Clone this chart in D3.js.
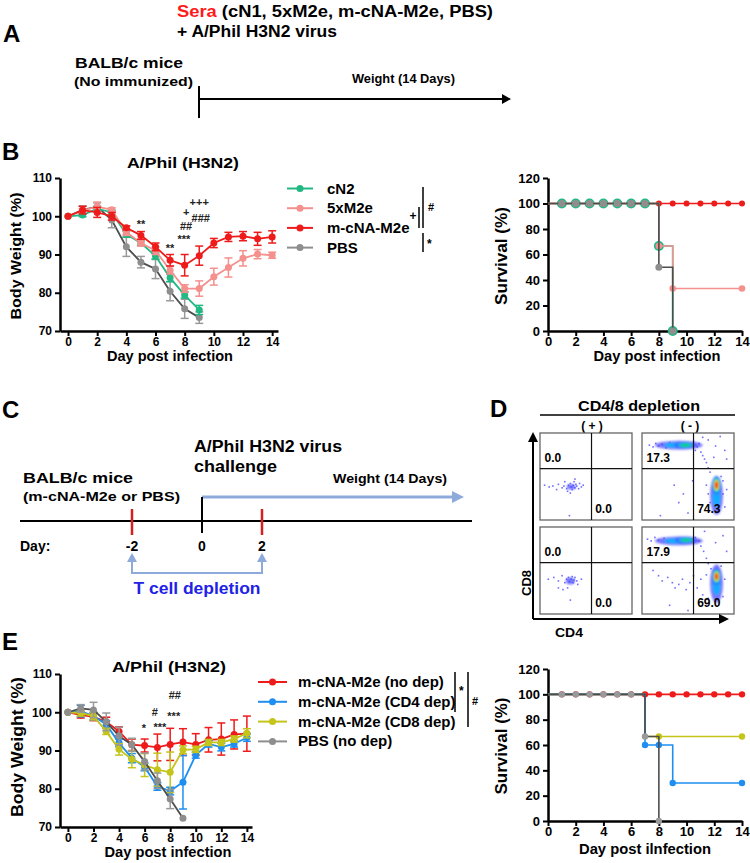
<!DOCTYPE html>
<html>
<head>
<meta charset="utf-8">
<script src="https://cdn.jsdelivr.net/npm/d3@7"></script>
<style>
  body { margin: 0; background: #fff; }
  svg { display: block; font-family: "Liberation Sans", Arial, sans-serif; }
</style>
</head>
<body>
<svg id="fig" width="750" height="863"></svg>
<script>
// ---- data ----
const days = d3.range(0, 15);
const tickDays = d3.range(0, 15, 2);

// panel B, body weight (%)
const bGroups = ["cN2", "5xM2e", "m-cNA-M2e", "PBS"];
const bCN2 = [100, 100.3, 102, 101, 95.3, 93, 89.6, 83.9, 79.4, 75.5];
const bCN2Err = [0, 0.4, 0.6, 0.6, 0.8, 0.6, 0.8, 1, 0.8, 1.2];
const b5x = [100, 101.5, 102.5, 101.7, 95.8, 93, 91, 85.9, 81.1, 81.1, 84.2, 86.6, 89, 90.1, 89.8];
const b5xErr = [0, 0.5, 1.2, 0.5, 0.8, 0.8, 1, 1, 1, 2, 2.2, 2.5, 2, 1.2, 0.8];
const bMc = [100, 101.6, 101, 100, 97, 95, 92, 88.5, 87.2, 89.7, 93, 94.6, 94.8, 94.1, 94.6];
const bMcErr = [0, 1, 1.3, 1, 0.5, 1, 1, 1.5, 2.8, 2.5, 1.2, 1.2, 1.2, 1.7, 1.6];
const bPBS = [100, 101.7, 102.5, 99, 92, 88, 86.2, 80.4, 75.8, 73.5];
const bPBSErr = [0, 1, 1, 2, 2.5, 1.5, 2.5, 2.5, 2.5, 1.5];
const bAnn = [["**", 5, 98.2], ["**", 7, 91.9], ["***", 7.95, 94.3], ["##", 8.1, 97.6],
              ["+", 8.1, 101.3], ["+++", 9.0, 103.9], ["###", 9.1, 99.7]];

// panel B, survival (%)
const sbCN2 = [100, 100, 100, 100, 100, 100, 100, 100, 66.7, 0];
const sb5x = [100, 100, 100, 100, 100, 100, 100, 100, 66.7, 33.3, 33.3, 33.3, 33.3, 33.3, 33.3];
const sbMc = [100, 100, 100, 100, 100, 100, 100, 100, 100, 100, 100, 100, 100, 100, 100];
const sbPBS = [100, 100, 100, 100, 100, 100, 100, 100, 50, 0];
const sbMarks = {cN2: [1,2,3,4,5,6,7,8,9], x5: [1,2,3,4,5,6,7,8,9,14], mc: d3.range(1, 15), pbs: [1,2,3,4,5,6,7,8,9]};

// panel E, body weight (%)
const eGroups = ["m-cNA-M2e (no dep)", "m-cNA-M2e (CD4 dep)", "m-cNA-M2e (CD8 dep)", "PBS (no dep)"];
const eNoDep = [100, 99.3, 98.8, 97.5, 95, 91.5, 91.3, 90.8, 91.6, 92.2, 91.6, 92.8, 93, 94.2, 94.4];
const eNoDepErr = [0, 0.8, 1, 1.2, 1.2, 1.5, 1.7, 3.5, 4.2, 3.5, 2.8, 3.2, 4.2, 3.8, 4.6];
const eCD4 = [100, 100.3, 99, 96.8, 92, 88, 85.7, 80.6, 79.4, 81.7, 88.8, 91.7, 90.9, 91.7, 93.4];
const eCD4Err = [0, 1.5, 1, 1, 1, 1.2, 1, 1, 1, 7, 0.8, 0.8, 1, 0.8, 1];
const eCD8 = [100, 99.8, 99, 95, 90.3, 87.7, 86.2, 85, 84.3, 90.2, 90.3, 92.1, 92.1, 93, 94.5];
const eCD8Err = [0, 0.8, 1, 0.8, 1.5, 2.2, 3, 4.3, 5.3, 1, 0.8, 0.8, 0.8, 0.8, 1.2];
const ePBS = [100, 101, 100.6, 97.5, 93.8, 91.5, 87.1, 82.1, 77.3, 72.3];
const ePBSErr = [0, 1, 2, 2.3, 2.3, 1.7, 2.2, 2, 2.5, 0];
const eAnn = [["*", 5.94, 96.1], ["#", 6.8, 100.1], ["***", 7.2, 96.4], ["##", 8.36, 104.6], ["***", 8.28, 99.2]];

// panel E, survival (%)
const seNoDep = [100, 100, 100, 100, 100, 100, 100, 100, 100, 100, 100, 100, 100, 100, 100];
const seCD4 = [100, 100, 100, 100, 100, 100, 100, 60, 60, 30, 30, 30, 30, 30, 30];
const seCD8 = [100, 100, 100, 100, 100, 100, 100, 66.7, 66.7, 66.7, 66.7, 66.7, 66.7, 66.7, 66.7];
const sePBS = [100, 100, 100, 100, 100, 100, 100, 66.7, 0];
const seMarks = {nodep: d3.range(1, 15), cd4: [7, 8, 9, 14], cd8: [8, 14], pbs: [1,2,3,4,5,6,7,8]};

// panel D, flow plots (local 0-100 units, CD4 across, CD8 up)
const flowQuad = [["0.0", "0.0"], ["17.3", "74.3"], ["0.0", "0.0"], ["17.9", "69.0"]];
const flowBlobs = [
  [{cx: 34, cy: 38, rx: 5, ry: 3, top: 0}],
  [{cx: 40, cy: 86, rx: 26, ry: 5, top: 1}, {cx: 47, cy: 86, rx: 12, ry: 4, top: 2},
   {cx: 81, cy: 28, rx: 7, ry: 22, top: 1}, {cx: 81, cy: 40, rx: 5, ry: 11, top: 4}],
  [{cx: 33, cy: 38, rx: 5, ry: 4, top: 0}],
  [{cx: 40, cy: 84, rx: 26, ry: 5, top: 1}, {cx: 48, cy: 85, rx: 12, ry: 4, top: 2},
   {cx: 81, cy: 35, rx: 7, ry: 22, top: 1}, {cx: 81, cy: 43, rx: 5, ry: 10, top: 4}]
];
const flowDots = [
  [[5,40],[10,38],[14,39],[20,41],[24,37],[27,44],[29,36],[31,40],[33,42],[34,38],[35,35],[36,40],
   [37,44],[38,37],[39,41],[40,39],[42,36],[43,42],[45,38],[30,33],[33,31],[38,47],[26,39],[18,35],[47,40],[32,5]],
  [[8,86],[12,84],[15,88],[18,85],[22,87],[26,83],[30,89],[56,90],[60,84],[58,80],[62,88],[64,78],[66,74],
   [68,70],[70,66],[72,60],[74,55],[66,95],[72,92],[80,85],[85,96],[90,80],[78,72],[92,70],[35,40],[45,30],
   [40,20],[55,45],[50,8],[20,5],[70,40],[72,30],[74,20],[88,30],[90,15],[86,50],[73,10],[88,45],[92,35]],
  [[9,40],[15,42],[20,38],[24,44],[27,36],[29,40],[31,42],[32,37],[34,40],[35,43],[36,36],[37,39],
   [38,42],[40,38],[41,34],[30,30],[33,16],[25,28],[45,40],[20,30]],
  [[6,86],[10,84],[14,88],[18,85],[24,87],[28,83],[58,88],[62,84],[64,78],[67,72],[70,64],[72,58],[75,52],
   [68,95],[80,82],[88,90],[92,72],[12,50],[18,44],[22,38],[28,42],[33,36],[36,30],[40,34],[44,40],[48,28],
   [52,36],[56,44],[60,30],[64,40],[66,22],[70,45],[72,18],[88,20],[90,40],[86,55],[30,10],[50,4]]
];

// ---- drawing ----
const svg = d3.select("#fig");
const COL = {green: "#22b884", pink: "#f4908d", red: "#ee1b1b", gray: "#8e8e8e", grayLine: "#4d4d4d",
             blue: "#1e8ff0", yellow: "#c4c41a", arrow: "#8eaadb"};

// text helper; w stretches the text to the width measured on the reference
function label(x, y, str, size, o = {}) {
  const t = svg.append("text").attr("x", x).attr("y", y)
    .attr("font-size", size).attr("font-weight", o.weight || "bold")
    .attr("fill", o.fill || "#000").attr("text-anchor", o.anchor || "start").text(str);
  if (o.w) t.attr("textLength", o.w).attr("lengthAdjust", "spacingAndGlyphs");
  return t;
}
function line(x1, y1, x2, y2, stroke, w) {
  return svg.append("line").attr("x1", x1).attr("y1", y1).attr("x2", x2).attr("y2", y2)
    .attr("stroke", stroke).attr("stroke-width", w);
}
function tri(pts, fill) {
  return svg.append("polygon").attr("points", pts.map(p => p.join(",")).join(" ")).attr("fill", fill);
}
function styleAxis(g) {
  g.select(".domain").attr("stroke", "#000").attr("stroke-width", 2.5);
  g.selectAll(".tick line").attr("stroke", "#000").attr("stroke-width", 2);
  g.selectAll(".tick text").attr("fill", "#000").attr("font-size", 12).attr("font-weight", "bold")
    .attr("font-family", "'Liberation Sans', Arial, sans-serif");
}
function yTitle(cx, cy, str, size, w) {
  const t = svg.append("text").attr("transform", `translate(${cx},${cy}) rotate(-90)`)
    .attr("text-anchor", "middle").attr("font-size", size).attr("font-weight", "bold").text(str);
  if (w) t.attr("textLength", w).attr("lengthAdjust", "spacingAndGlyphs");
}

function weightChart(c) {
  const x = d3.scaleLinear().domain([c.dayMin, 14.4]).range([60, c.xEnd]);
  const y = d3.scaleLinear().domain([70, 110]).range([c.yBot, c.yTop]);
  const g = svg.append("g");
  g.append("g").attr("transform", `translate(0,${c.yBot})`)
    .call(d3.axisBottom(x).tickValues(tickDays).tickSize(5).tickSizeOuter(0).tickPadding(1)).call(styleAxis);
  g.append("g").attr("transform", "translate(60,0)")
    .call(d3.axisLeft(y).tickValues([70, 80, 90, 100, 110]).tickSize(5).tickSizeOuter(0).tickPadding(3)).call(styleAxis);

  c.series.forEach(s => {
    const pts = s.vals.map((v, i) => [i, v, s.err[i]]);
    g.append("path").datum(pts).attr("fill", "none").attr("stroke", s.line).attr("stroke-width", 1.8)
      .attr("d", d3.line().x(d => x(d[0])).y(d => y(d[1])));
    const eb = g.append("g").attr("stroke", s.bar).attr("stroke-width", 1.5);
    pts.filter(d => d[2] > 0).forEach(d => {
      eb.append("line").attr("x1", x(d[0])).attr("x2", x(d[0])).attr("y1", y(d[1] - d[2])).attr("y2", y(d[1] + d[2]));
      [d[1] - d[2], d[1] + d[2]].forEach(v =>
        eb.append("line").attr("x1", x(d[0]) - 4).attr("x2", x(d[0]) + 4).attr("y1", y(v)).attr("y2", y(v)));
    });
    g.selectAll(null).data(pts).join("circle").attr("cx", d => x(d[0])).attr("cy", d => y(d[1]))
      .attr("r", 3.5).attr("fill", s.mark);
  });
  c.ann.forEach(a => {
    g.append("text").attr("x", x(a[1])).attr("y", y(a[2]) + 4.5).attr("text-anchor", "middle")
      .attr("font-size", 11).attr("font-weight", "bold").attr("fill", "#222").text(a[0]);
  });
}

function survivalChart(c) {
  const x = d3.scaleLinear().domain([0, 14]).range([548, 742]);
  const y = d3.scaleLinear().domain([0, 120]).range([c.yBot, c.yTop]);
  const g = svg.append("g");
  g.append("g").attr("transform", `translate(0,${c.yBot})`)
    .call(d3.axisBottom(x).tickValues(tickDays).tickSize(5).tickSizeOuter(0).tickPadding(1)).call(styleAxis);
  g.append("g").attr("transform", "translate(548,0)")
    .call(d3.axisLeft(y).tickValues(d3.range(0, 121, 20)).tickSize(5).tickSizeOuter(0).tickPadding(3)).call(styleAxis);
  g.selectAll(".tick text").attr("font-size", 13);
  c.series.forEach(s => {
    g.append("path").datum(s.vals.map((v, i) => [i, v])).attr("fill", "none")
      .attr("stroke", s.line).attr("stroke-width", 1.6)
      .attr("d", d3.line().curve(d3.curveStepAfter).x(d => x(d[0])).y(d => y(d[1])));
    g.selectAll(null).data(s.marks).join("circle").attr("cx", d => x(d)).attr("cy", d => y(s.vals[d]))
      .attr("r", s.r).attr("fill", s.mark);
  });
}

function legend(x0, y0, step, items) {
  items.forEach((it, i) => {
    const yy = y0 + i * step;
    line(x0, yy, x0 + it.len, yy, it.color, 2);
    svg.append("circle").attr("cx", x0 + it.len / 2).attr("cy", yy).attr("r", 3.5).attr("fill", it.color);
    label(x0 + it.len + it.gap, yy + 5, it.name, 15);
  });
}

// ---- panel A ----
label(3, 42, "A", 24);
const sera = svg.append("text").attr("x", 177).attr("y", 17).attr("font-size", 16).attr("font-weight", "bold")
  .attr("textLength", 316).attr("lengthAdjust", "spacingAndGlyphs");
sera.append("tspan").attr("fill", "#ff1a1a").text("Sera");
sera.append("tspan").text(" (cN1, 5xM2e, m-cNA-M2e, PBS)");
label(177, 37, "+ A/Phil H3N2 virus", 16, {w: 160});
label(75, 68, "BALB/c mice", 15, {w: 108});
label(74, 86, "(No immunized)", 13, {w: 119});
line(199, 86, 199, 118, "#000", 2);
line(199, 99, 503, 99, "#000", 2);
tri([[502, 94], [511, 99], [502, 104]], "#000");
label(352, 83, "Weight (14 Days)", 12, {w: 103});

// ---- panel B ----
label(2, 160, "B", 24);
label(183, 168, "A/Phil (H3N2)", 15, {anchor: "middle", w: 112});
weightChart({
  dayMin: -0.55, xEnd: 278, yTop: 178, yBot: 331, ann: bAnn,
  series: [
    {vals: bPBS, err: bPBSErr, line: COL.grayLine, bar: "#999", mark: COL.gray},
    {vals: bCN2, err: bCN2Err, line: COL.green, bar: COL.green, mark: COL.green},
    {vals: b5x, err: b5xErr, line: COL.pink, bar: COL.pink, mark: COL.pink},
    {vals: bMc, err: bMcErr, line: COL.red, bar: COL.red, mark: COL.red}
  ]
});
yTitle(21, 256, "Body Weight (%)", 15, 127);
label(170, 361, "Day post infection", 14, {anchor: "middle", w: 126});
legend(287, 188.5, 19.7, [
  {name: bGroups[0], color: COL.green, len: 26, gap: 14},
  {name: bGroups[1], color: COL.pink, len: 26, gap: 14},
  {name: bGroups[2], color: COL.red, len: 26, gap: 14},
  {name: bGroups[3], color: COL.gray, len: 26, gap: 14}
]);
line(419, 207, 419, 228, "#000", 1.5);
line(423, 187, 423, 228, "#000", 1.5);
line(423, 233, 423, 252, "#000", 1.5);
label(413, 220, "+", 12, {anchor: "middle"});
label(428, 211, "#", 11);
label(427, 248, "*", 12);

survivalChart({
  yTop: 178, yBot: 331,
  series: [
    {vals: sbMc, marks: sbMarks.mc, line: COL.red, mark: COL.red, r: 3},
    {vals: sbCN2, marks: sbMarks.cN2, line: COL.green, mark: COL.green, r: 5},
    {vals: sb5x, marks: sbMarks.x5, line: COL.pink, mark: COL.pink, r: 3.3},
    {vals: sbPBS, marks: sbMarks.pbs, line: COL.grayLine, mark: COL.gray, r: 3.5}
  ]
});
yTitle(507, 256, "Survival (%)", 16, 98);
label(657, 361, "Day post infection", 14, {anchor: "middle", w: 127});

// ---- panel C ----
label(2, 418, "C", 24);
label(194, 452, "A/Phil H3N2 virus", 16, {w: 148});
label(194, 472, "challenge", 16, {w: 83});
label(23, 483, "BALB/c mice", 15, {w: 110});
label(23, 501, "(m-cNA-M2e or PBS)", 13, {w: 157});
label(333, 483, "Weight (14 Days)", 13, {w: 114});
line(202, 497, 453, 497, COL.arrow, 3);
tri([[452, 491], [464, 497], [452, 503]], COL.arrow);
line(20, 521, 472, 521, "#000", 2);
line(202, 497, 202, 533, "#000", 2);
[132, 262].forEach(xx => line(xx, 509, xx, 535, "#d42020", 2.5));
label(20, 551, "Day:", 14);
[["-2", 132], ["0", 202], ["2", 262]].forEach(d => label(d[1], 551, d[0], 14, {anchor: "middle"}));
svg.append("path").attr("d", "M132,560 V573 H262 V560").attr("fill", "none")
  .attr("stroke", COL.arrow).attr("stroke-width", 2);
[132, 262].forEach(xx => tri([[xx - 5, 562], [xx, 553], [xx + 5, 562]], COL.arrow));
label(197, 594, "T cell depletion", 16, {anchor: "middle", fill: "#2222e6", w: 127});

// ---- panel D ----
label(490, 417, "D", 24);
label(639, 411, "CD4/8 depletion", 15, {anchor: "middle", w: 122});
line(540, 415, 735, 415, "#000", 1.5);
label(592, 430, "( + )", 12, {anchor: "middle"});
label(690, 430, "( - )", 12, {anchor: "middle"});
const blur = svg.append("defs").append("filter").attr("id", "soft");
blur.append("feGaussianBlur").attr("stdDeviation", 0.9);
const dens = ["#4646ff", "#10b0ff", "#10d870", "#f0e800", "#ff2000"];
const boxes = [[540, 433], [642, 433], [540, 527], [642, 527]];
boxes.forEach((b, i) => {
  const fx = d3.scaleLinear().domain([0, 100]).range([b[0], b[0] + 92]);
  const fy = d3.scaleLinear().domain([0, 100]).range([b[1] + 87, b[1]]);
  const g = svg.append("g");
  g.append("rect").attr("x", b[0]).attr("y", b[1]).attr("width", 92).attr("height", 87)
    .attr("fill", "#fff").attr("stroke", "#666").attr("stroke-width", 1.3);
  g.selectAll(null).data(flowDots[i]).join("rect").attr("x", d => fx(d[0]) - 0.8).attr("y", d => fy(d[1]) - 0.8)
    .attr("width", 1.6).attr("height", 1.6).attr("fill", "#4040ff").attr("opacity", 0.75);
  const bg = g.append("g").attr("filter", "url(#soft)");
  flowBlobs[i].forEach(bl => {
    d3.range(0, bl.top + 1).forEach(L => {
      const s = 1 - L / (bl.top + 1) * 0.78;
      bg.append("ellipse").attr("cx", fx(bl.cx)).attr("cy", fy(bl.cy))
        .attr("rx", (fx(bl.rx) - fx(0)) * s).attr("ry", (fy(0) - fy(bl.ry)) * s)
        .attr("fill", dens[L]).attr("opacity", L === 0 ? 0.75 : 0.95);
    });
  });
  g.append("line").attr("x1", fx(56)).attr("x2", fx(56)).attr("y1", b[1]).attr("y2", b[1] + 87)
    .attr("stroke", "#111").attr("stroke-width", 1.2);
  g.append("line").attr("x1", b[0]).attr("x2", b[0] + 92).attr("y1", fy(59)).attr("y2", fy(59))
    .attr("stroke", "#111").attr("stroke-width", 1.2);
  g.append("text").attr("x", fx(5)).attr("y", fy(67)).attr("font-size", 12).attr("font-weight", "bold").text(flowQuad[i][0]);
  g.append("text").attr("x", fx(60)).attr("y", fy(8)).attr("font-size", 12).attr("font-weight", "bold").text(flowQuad[i][1]);
});
line(533, 619, 533, 441, "#000", 2);
tri([[528, 442], [533, 432], [538, 442]], "#000");
line(533, 619, 720, 619, "#000", 2);
tri([[719, 614], [729, 619], [719, 624]], "#000");
yTitle(531, 583, "CD8", 13);
label(555, 637, "CD4", 13, {w: 28});

// ---- panel E ----
label(2, 650, "E", 24);
label(169, 672, "A/Phil (H3N2)", 15, {anchor: "middle", w: 114});
weightChart({
  dayMin: -0.62, xEnd: 252, yTop: 674, yBot: 827, ann: eAnn,
  series: [
    {vals: eNoDep, err: eNoDepErr, line: COL.red, bar: COL.red, mark: COL.red},
    {vals: eCD4, err: eCD4Err, line: COL.blue, bar: COL.blue, mark: COL.blue},
    {vals: eCD8, err: eCD8Err, line: COL.yellow, bar: COL.yellow, mark: COL.yellow},
    {vals: ePBS, err: ePBSErr, line: COL.grayLine, bar: "#999", mark: COL.gray}
  ]
});
yTitle(23, 747, "Body Weight (%)", 16, 140);
label(168, 857, "Day post infection", 14, {anchor: "middle", w: 127});
legend(258, 682, 19.8, [
  {name: eGroups[0], color: COL.red, len: 29, gap: 11},
  {name: eGroups[1], color: COL.blue, len: 29, gap: 11},
  {name: eGroups[2], color: COL.yellow, len: 29, gap: 11},
  {name: eGroups[3], color: COL.gray, len: 29, gap: 11}
]);
line(455, 672, 455, 712, "#000", 1.5);
line(468, 672, 468, 727, "#000", 1.5);
label(459, 695, "*", 12);
label(472, 705, "#", 11);

survivalChart({
  yTop: 669, yBot: 821,
  series: [
    {vals: seNoDep, marks: seMarks.nodep, line: COL.red, mark: COL.red, r: 3.2},
    {vals: seCD8, marks: seMarks.cd8, line: COL.yellow, mark: COL.yellow, r: 3.2},
    {vals: seCD4, marks: seMarks.cd4, line: COL.blue, mark: COL.blue, r: 3.2},
    {vals: sePBS, marks: seMarks.pbs, line: COL.grayLine, mark: "#999", r: 3.2}
  ]
});
yTitle(507, 746, "Survival (%)", 16, 97);
label(645, 854, "Day post ilnfection", 14, {anchor: "middle", w: 132});
</script>
</body>
</html>
